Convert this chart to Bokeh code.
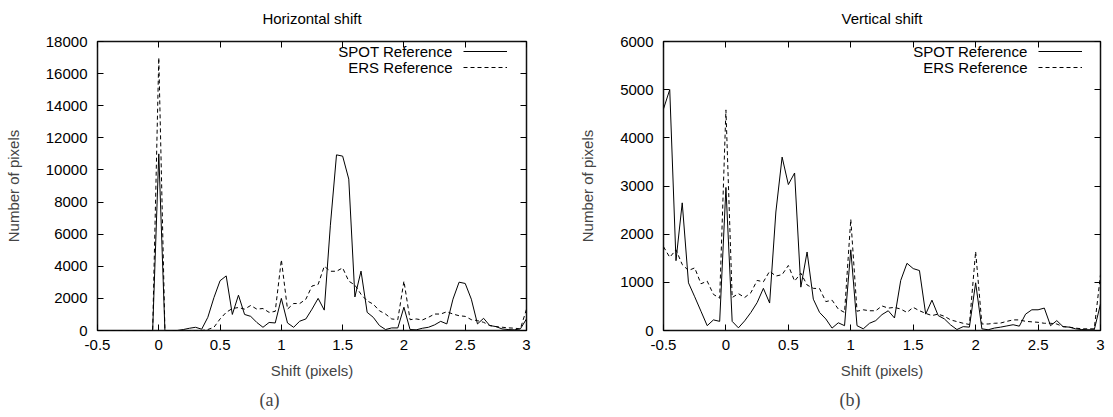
from bokeh.plotting import figure
from bokeh.models import Range1d, FixedTicker, LinearAxis, Label, Legend, LegendItem, Title
from bokeh.layouts import row
from bokeh.embed import file_html
from bokeh.resources import INLINE

# ---------------- data ----------------
shift = [-0.5, -0.45, -0.4, -0.35, -0.3, -0.25, -0.2, -0.15, -0.1, -0.05,
         0.0, 0.05, 0.1, 0.15, 0.2, 0.25, 0.3, 0.35, 0.4, 0.45,
         0.5, 0.55, 0.6, 0.65, 0.7, 0.75, 0.8, 0.85, 0.9, 0.95,
         1.0, 1.05, 1.1, 1.15, 1.2, 1.25, 1.3, 1.35, 1.4, 1.45,
         1.5, 1.55, 1.6, 1.65, 1.7, 1.75, 1.8, 1.85, 1.9, 1.95,
         2.0, 2.05, 2.1, 2.15, 2.2, 2.25, 2.3, 2.35, 2.4, 2.45,
         2.5, 2.55, 2.6, 2.65, 2.7, 2.75, 2.8, 2.85, 2.9, 2.95,
         3.0]

# Horizontal shift
h_spot = [0, 0, 0, 0, 0, 0, 0, 0, 0, 0,
          11000, 0, 0, 0, 60, 140, 200, 80, 820, 2050,
          3100, 3400, 1000, 2200, 1000, 880, 500, 200, 500, 470,
          2000, 470, 200, 580, 720, 1330, 2000, 1270, 6560, 10940,
          10860, 9430, 2090, 3700, 1130, 820, 310, 60, 160, 160,
          1450, 60, 40, 140, 200, 350, 570, 410, 1950, 3010,
          2930, 1950, 410, 760, 310, 245, 100, 60, 40, 100,
          720]
h_ers = [0, 0, 0, 0, 0, 0, 0, 0, 0, 0,
         17000, 0, 0, 0, 0, 0, 0, 0, 60, 200,
         720, 1130, 1370, 1430, 1330, 1560, 1330, 1370, 1130, 1190,
         4410, 1330, 1680, 1680, 1950, 2770, 2870, 4000, 3690, 3690,
         3900, 3075, 2830, 2255, 1845, 1640, 1230, 1025, 720, 675,
         3075, 675, 720, 655, 820, 1025, 1025, 1170, 1025, 920,
         880, 675, 615, 510, 310, 245, 205, 165, 145, 100,
         1330]

# Vertical shift
v_spot = [4600, 5000, 1450, 2650, 990, 700, 400, 100, 220, 190,
          2970, 190, 55, 200, 375, 580, 875, 570, 2460, 3600,
          3030, 3270, 900, 1630, 650, 375, 240, 50, 160, 100,
          1675, 100, 35, 150, 205, 330, 410, 260, 1040, 1395,
          1285, 1245, 340, 630, 310, 240, 115, 20, 80, 70,
          990, 35, 15, 50, 70, 95, 120, 90, 340, 430,
          430, 465, 100, 205, 80, 70, 35, 20, 15, 15,
          550]
v_ers = [1740, 1520, 1675, 1370, 1245, 1300, 970, 1025, 750, 670,
         4580, 685, 765, 685, 785, 1040, 1010, 1230, 1130, 1160,
         1350, 1025, 1190, 945, 875, 870, 600, 630, 445, 375,
         2310, 400, 430, 410, 410, 510, 465, 480, 445, 375,
         480, 410, 355, 310, 340, 295, 220, 185, 150, 125,
         1640, 135, 135, 150, 155, 190, 220, 220, 190, 180,
         170, 150, 150, 135, 80, 70, 50, 35, 35, 35,
         1160]

x_ticks = [-0.5, 0, 0.5, 1, 1.5, 2, 2.5, 3]
x_tick_labels = ["-0.5", "0", "0.5", "1", "1.5", "2", "2.5", "3"]
h_y_ticks = [0, 2000, 4000, 6000, 8000, 10000, 12000, 14000, 16000, 18000]
h_y_tick_labels = ["0", "2000", "4000", "6000", "8000", "10000", "12000", "14000", "16000", "18000"]
v_y_ticks = [0, 1000, 2000, 3000, 4000, 5000, 6000]
v_y_tick_labels = ["0", "1000", "2000", "3000", "4000", "5000", "6000"]

series_names = ["SPOT Reference", "ERS Reference"]

FONT = "Liberation Sans"
SERIF = "Liberation Serif"


def style_axis(ax, ticks, labels, show):
    ax.ticker = FixedTicker(ticks=ticks)
    ax.axis_line_color = None
    ax.major_tick_in = 6
    ax.major_tick_out = 0
    ax.major_tick_line_color = "black"
    ax.major_tick_line_width = 1
    ax.minor_tick_line_color = None
    ax.major_label_text_font = FONT
    if show:
        ax.major_label_overrides = {t: l for t, l in zip(ticks, labels)}
        ax.major_label_text_font_size = "15px"
        ax.major_label_text_color = "black"
    else:
        ax.major_label_text_font_size = "0px"
        ax.major_label_text_color = None
        ax.major_label_standoff = 0


def make(title, caption, spot, ers, y_max, y_ticks, y_labels, width,
         left_border, right_border, cap_offset, legend_x):
    p = figure(width=width, height=416,
               x_range=Range1d(-0.5, 3), y_range=Range1d(0, y_max),
               output_backend="svg", toolbar_location=None,
               min_border_left=left_border, min_border_right=right_border,
               min_border_top=41, min_border_bottom=83,
               x_axis_location=None, y_axis_location=None)
    p.grid.visible = False
    p.outline_line_color = "#111111"
    p.outline_line_width = 1.5
    p.background_fill_color = "white"
    p.border_fill_color = "white"

    xb = LinearAxis(axis_label="Shift (pixels)")
    style_axis(xb, x_ticks, x_tick_labels, True)
    xb.major_label_standoff = 9
    xb.axis_label_standoff = 9
    xb.axis_label_text_font = FONT
    xb.axis_label_text_font_size = "15px"
    xb.axis_label_text_font_style = "normal"
    p.add_layout(xb, "below")

    # mirror ticks on top; the plot title sits above them
    xt = LinearAxis(axis_label=title)
    style_axis(xt, x_ticks, x_tick_labels, False)
    xt.axis_label_standoff = 15
    xt.axis_label_text_font = FONT
    xt.axis_label_text_font_size = "15px"
    xt.axis_label_text_font_style = "normal"
    xt.axis_label_text_color = "black"
    p.add_layout(xt, "above")

    yl = LinearAxis(axis_label="Number of pixels")
    style_axis(yl, y_ticks, y_labels, True)
    yl.major_label_standoff = 10
    yl.axis_label_standoff = 21
    yl.axis_label_text_font = FONT
    yl.axis_label_text_font_size = "15px"
    yl.axis_label_text_font_style = "normal"
    p.add_layout(yl, "left")

    yr = LinearAxis()
    style_axis(yr, y_ticks, y_labels, False)
    p.add_layout(yr, "right")

    cap = Title(text=caption, align="left", offset=cap_offset, standoff=13,
                text_font=SERIF, text_font_size="18px", text_font_style="normal")
    p.add_layout(cap, "below")

    r1 = p.line(shift, spot, line_color="black", line_width=1)
    r2 = p.line(shift, ers, line_color="black", line_width=1, line_dash="4 3")

    legend = Legend(items=[LegendItem(label="", renderers=[r1]),
                           LegendItem(label="", renderers=[r2])],
                    location=(legend_x, 255), padding=0, margin=0, spacing=0,
                    glyph_width=44, glyph_height=16, label_width=0,
                    label_height=16, label_standoff=0,
                    border_line_color=None, background_fill_alpha=0)
    p.add_layout(legend)

    for name, yy in zip(series_names, [279, 263]):
        p.add_layout(Label(x=legend_x - 11, y=yy, x_units="screen", y_units="screen",
                           text=name, text_align="right", text_baseline="middle",
                           text_font=FONT, text_font_size="15px", text_color="black"))
    return p


p1 = make("Horizontal shift", "(a)", h_spot, h_ers, 18000, h_y_ticks, h_y_tick_labels,
          555, 97, 29, 162, 366)
p2 = make("Vertical shift", "(b)", v_spot, v_ers, 6000, v_y_ticks, v_y_tick_labels,
          557, 108, 12, 176, 375)

layout = row(p1, p2)
open("out.html", "w").write(file_html(layout, INLINE))
